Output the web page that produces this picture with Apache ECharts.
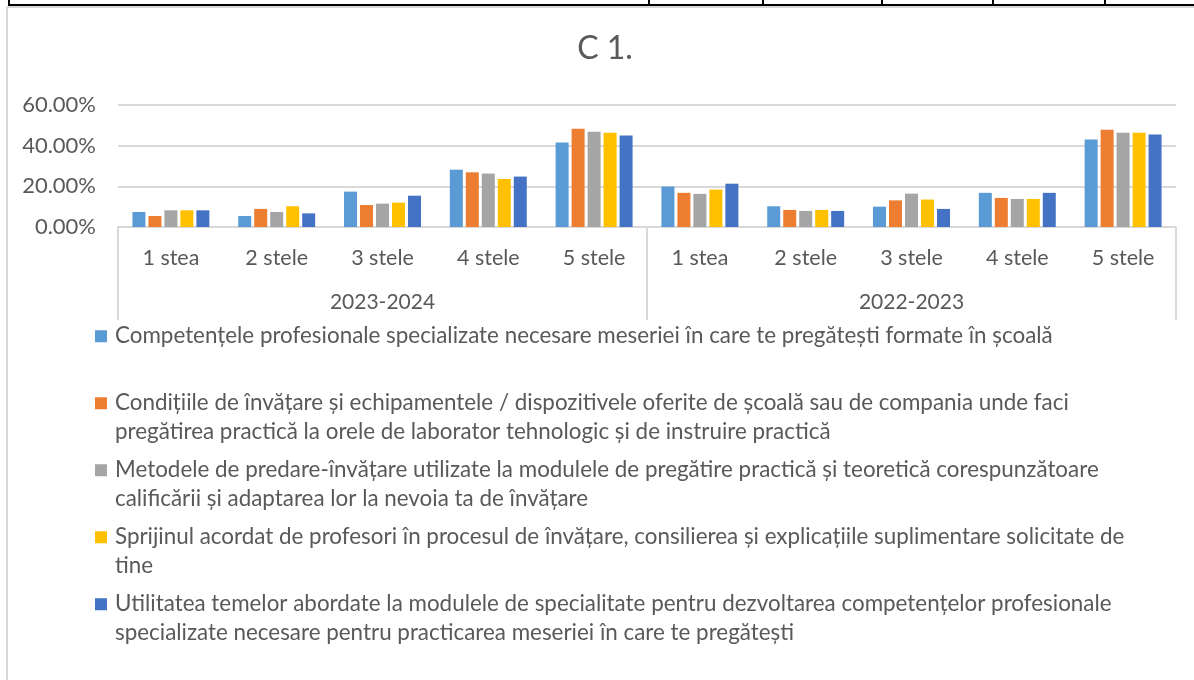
<!DOCTYPE html>
<html>
<head>
<meta charset="utf-8">
<script src="https://cdn.jsdelivr.net/npm/echarts@6/dist/echarts.min.js"></script>
<style>
html,body{margin:0;padding:0;background:#fff;}
#c{width:1194px;height:680px;}
</style>
</head>
<body>
<div id="c"></div>
<script>
// ---- data ----
const title = 'C 1.';
const categories = ['1 stea','2 stele','3 stele','4 stele','5 stele','1 stea','2 stele','3 stele','4 stele','5 stele'];
const groups = ['2023-2024','2022-2023'];
const seriesNames = [
  'Competențele profesionale specializate necesare meseriei în care te pregătești formate în școală',
  'Condițiile de învățare și echipamentele / dispozitivele oferite de școală sau de compania unde faci pregătirea practică la orele de laborator tehnologic și de instruire practică',
  'Metodele de predare-învățare utilizate la modulele de pregătire practică și teoretică corespunzătoare calificării și adaptarea lor la nevoia ta de învățare',
  'Sprijinul acordat de profesori în procesul de învățare, consilierea și explicațiile suplimentare solicitate de tine',
  'Utilitatea temelor abordate la modulele de specialitate pentru dezvoltarea competențelor profesionale specializate necesare pentru practicarea meseriei în care te pregătești'
];
const legendLines = [
  ['Competențele profesionale specializate necesare meseriei în care te pregătești formate în școală', ' '],
  ['Condițiile de învățare și echipamentele / dispozitivele oferite de școală sau de compania unde faci', 'pregătirea practică la orele de laborator tehnologic și de instruire practică'],
  ['Metodele de predare-învățare utilizate la modulele de pregătire practică și teoretică corespunzătoare', 'calificării și adaptarea lor la nevoia ta de învățare'],
  ['Sprijinul acordat de profesori în procesul de învățare, consilierea și explicațiile suplimentare solicitate de', 'tine'],
  ['Utilitatea temelor abordate la modulele de specialitate pentru dezvoltarea competențelor profesionale', 'specializate necesare pentru practicarea meseriei în care te pregătești']
];
const competente = [7.4, 5.4, 17.4, 28.2, 41.5, 19.9, 10.2, 10.0, 16.8, 43.0];
const conditii   = [5.4, 8.9, 10.8, 26.9, 48.3, 16.8, 8.4, 13.1, 14.3, 47.8];
const metode     = [8.2, 7.4, 11.5, 26.3, 46.9, 16.3, 7.9, 16.4, 13.8, 46.3];
const sprijin    = [8.2, 10.2, 12.0, 23.6, 46.3, 18.4, 8.4, 13.5, 13.8, 46.3];
const utilitate  = [8.2, 6.7, 15.4, 24.8, 45.0, 21.3, 7.9, 8.9, 16.8, 45.5];
const yTicks = { min: 0, max: 60, interval: 20 };

const values = [competente, conditii, metode, sprijin, utilitate];
const colors = ['#5B9BD5', '#ED7D31', '#A5A5A5', '#FFC000', '#4472C4'];
const font = 'Lato';
const txt = '#595959';
const lfs = 22.4;
const lh = 28.5;

const rich = {
  t: { fontFamily: font, fontSize: lfs, color: txt, lineHeight: lh },
  sp: { width: 8, lineHeight: lh },
  ind: { width: 20, lineHeight: lh }
};
colors.forEach((c, i) => { rich['m' + i] = { width: 12, height: 12, backgroundColor: c }; });

const chart = echarts.init(document.getElementById('c'), null, { renderer: 'canvas' });
chart.setOption({
  animation: false,
  color: colors,
  title: {
    text: title, left: 605, top: 33, textAlign: 'center', padding: 0,
    textStyle: { fontFamily: font, fontSize: 32, fontWeight: 'normal', color: txt }
  },
  grid: { left: 118, right: 18, top: 105, bottom: 453, containLabel: false },
  legend: {
    orient: 'vertical', left: 89, top: 322, padding: 0, itemGap: 10,
    itemWidth: 1, itemHeight: 1, selectedMode: false,
    itemStyle: { opacity: 0 },
    data: seriesNames,
    formatter: function (name) {
      const i = seriesNames.indexOf(name);
      const l = legendLines[i];
      return '{m' + i + '|}{sp|}{t|' + l[0] + '}\n{ind|}{t|' + l[1] + '}';
    },
    textStyle: { rich: rich, fontFamily: font, fontSize: lfs, color: txt, lineHeight: lh }
  },
  xAxis: [
    {
      type: 'category', data: categories, position: 'bottom',
      axisLine: { show: true, lineStyle: { color: '#d9d9d9', width: 2 } },
      axisTick: { show: false },
      axisLabel: { margin: 20, fontFamily: font, fontSize: 21.5, color: txt, interval: 0 }
    },
    {
      type: 'category', data: groups, position: 'bottom', gridIndex: 0,
      axisLine: { show: false },
      axisTick: { show: true, length: 93, lineStyle: { color: '#d9d9d9', width: 2 } },
      axisLabel: { margin: 65, fontFamily: font, fontSize: 21, color: txt, interval: 0 },
      splitLine: { show: false }
    }
  ],
  yAxis: {
    type: 'value', min: yTicks.min, max: yTicks.max, interval: yTicks.interval,
    axisLine: { show: false }, axisTick: { show: false },
    splitLine: { lineStyle: { color: '#d9d9d9', width: 2 } },
    axisLabel: { margin: 22, fontFamily: font, fontSize: 22, color: txt,
      formatter: v => v.toFixed(2) + '%' }
  },
  series: values.map((d, i) => ({
    name: seriesNames[i], type: 'bar', data: d, xAxisIndex: 0,
    barWidth: 13, barGap: '23%',
    itemStyle: { color: colors[i] }
  })),
  graphic: [
    { type: 'rect', shape: { x: 7, y: 7, width: 1300, height: 800 }, style: { fill: 'none', stroke: '#d9d9d9', lineWidth: 2 }, silent: true, z: -1 },
    { type: 'line', shape: { x1: 8, y1: 5, x2: 1194, y2: 5 }, style: { stroke: '#000', lineWidth: 2 } },
    { type: 'line', shape: { x1: 9, y1: 0, x2: 9, y2: 5 }, style: { stroke: '#000', lineWidth: 2 } },
    { type: 'line', shape: { x1: 649, y1: 0, x2: 649, y2: 5 }, style: { stroke: '#000', lineWidth: 2 } },
    { type: 'line', shape: { x1: 763, y1: 0, x2: 763, y2: 5 }, style: { stroke: '#000', lineWidth: 2 } },
    { type: 'line', shape: { x1: 882, y1: 0, x2: 882, y2: 5 }, style: { stroke: '#000', lineWidth: 2 } },
    { type: 'line', shape: { x1: 993, y1: 0, x2: 993, y2: 5 }, style: { stroke: '#000', lineWidth: 2 } },
    { type: 'line', shape: { x1: 1105, y1: 0, x2: 1105, y2: 5 }, style: { stroke: '#000', lineWidth: 2 } }
  ]
});
</script>
</body>
</html>
